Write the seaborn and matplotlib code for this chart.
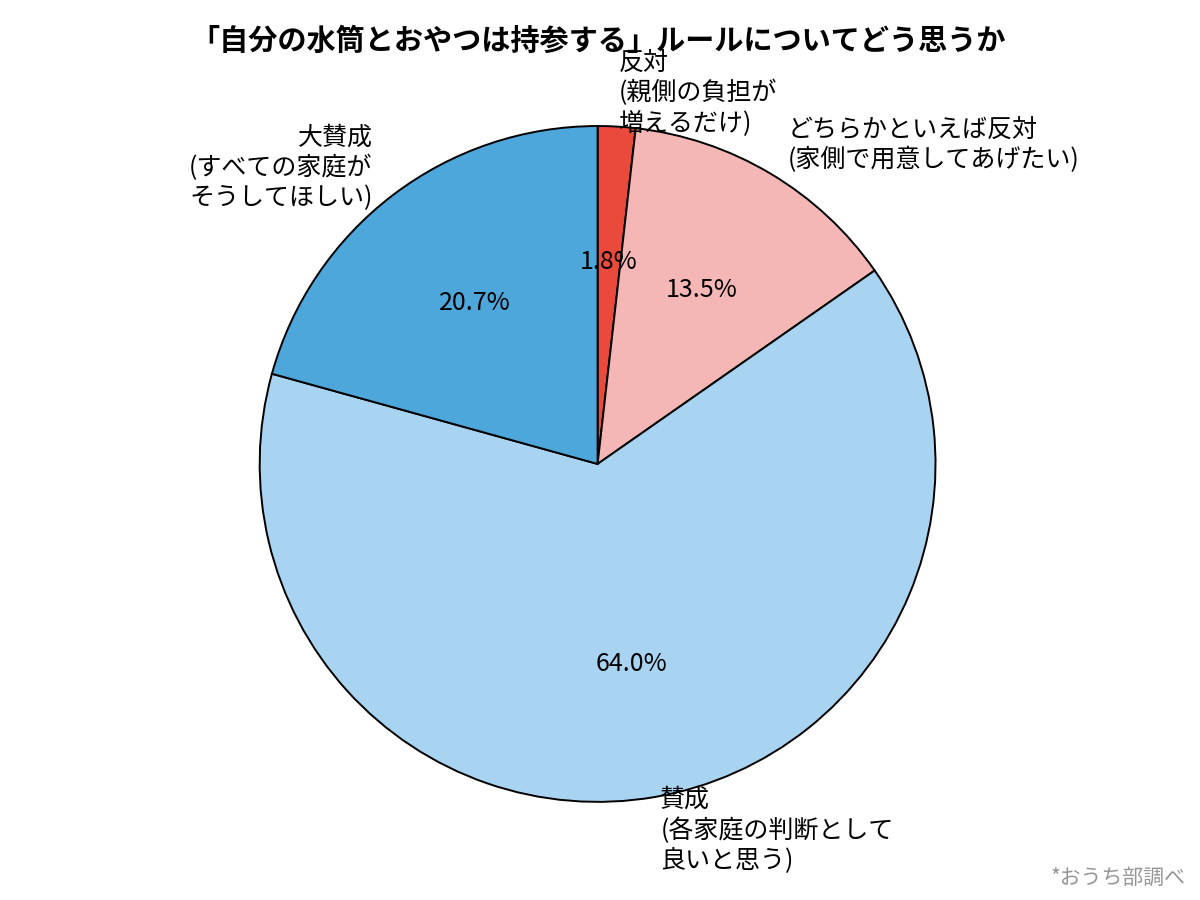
import matplotlib
matplotlib.use("Agg")
import matplotlib.pyplot as plt
import seaborn as sns

sns.set_theme(style="white")
plt.rcParams["font.family"] = ["Noto Sans CJK JP", "DejaVu Sans"]

labels = [
    "反対\n(親側の負担が\n増えるだけ)",
    "どちらかといえば反対\n(家側で用意してあげたい)",
    "賛成\n(各家庭の判断として\n良いと思う)",
    "大賛成\n(すべての家庭が\nそうしてほしい)",
]
shares = [1.8, 13.5, 64.0, 20.7]
colors = ["#EA4A3C", "#F5B7B5", "#A8D4F2", "#4EA7DB"]

fig = plt.figure(figsize=(12, 9), dpi=100)
ax = fig.add_axes([0.146, 0.015, 0.704, 0.939])
ax.pie(
    shares,
    labels=labels,
    colors=colors,
    autopct="%1.1f%%",
    startangle=90,
    counterclock=False,
    wedgeprops={"edgecolor": "black", "linewidth": 1.4},
    textprops={"fontsize": 18, "color": "black"},
)
ax.set_aspect("equal")
fig.text(0.4983, 0.955, "「自分の水筒とおやつは持参する」ルールについてどう思うか",
         ha="center", va="center", fontsize=21, fontweight="bold", color="black")
fig.text(0.988, 0.025, "*おうち部調べ", ha="right", va="center",
         fontsize=15, color="#959595")
fig.savefig("out.png", dpi=100)
